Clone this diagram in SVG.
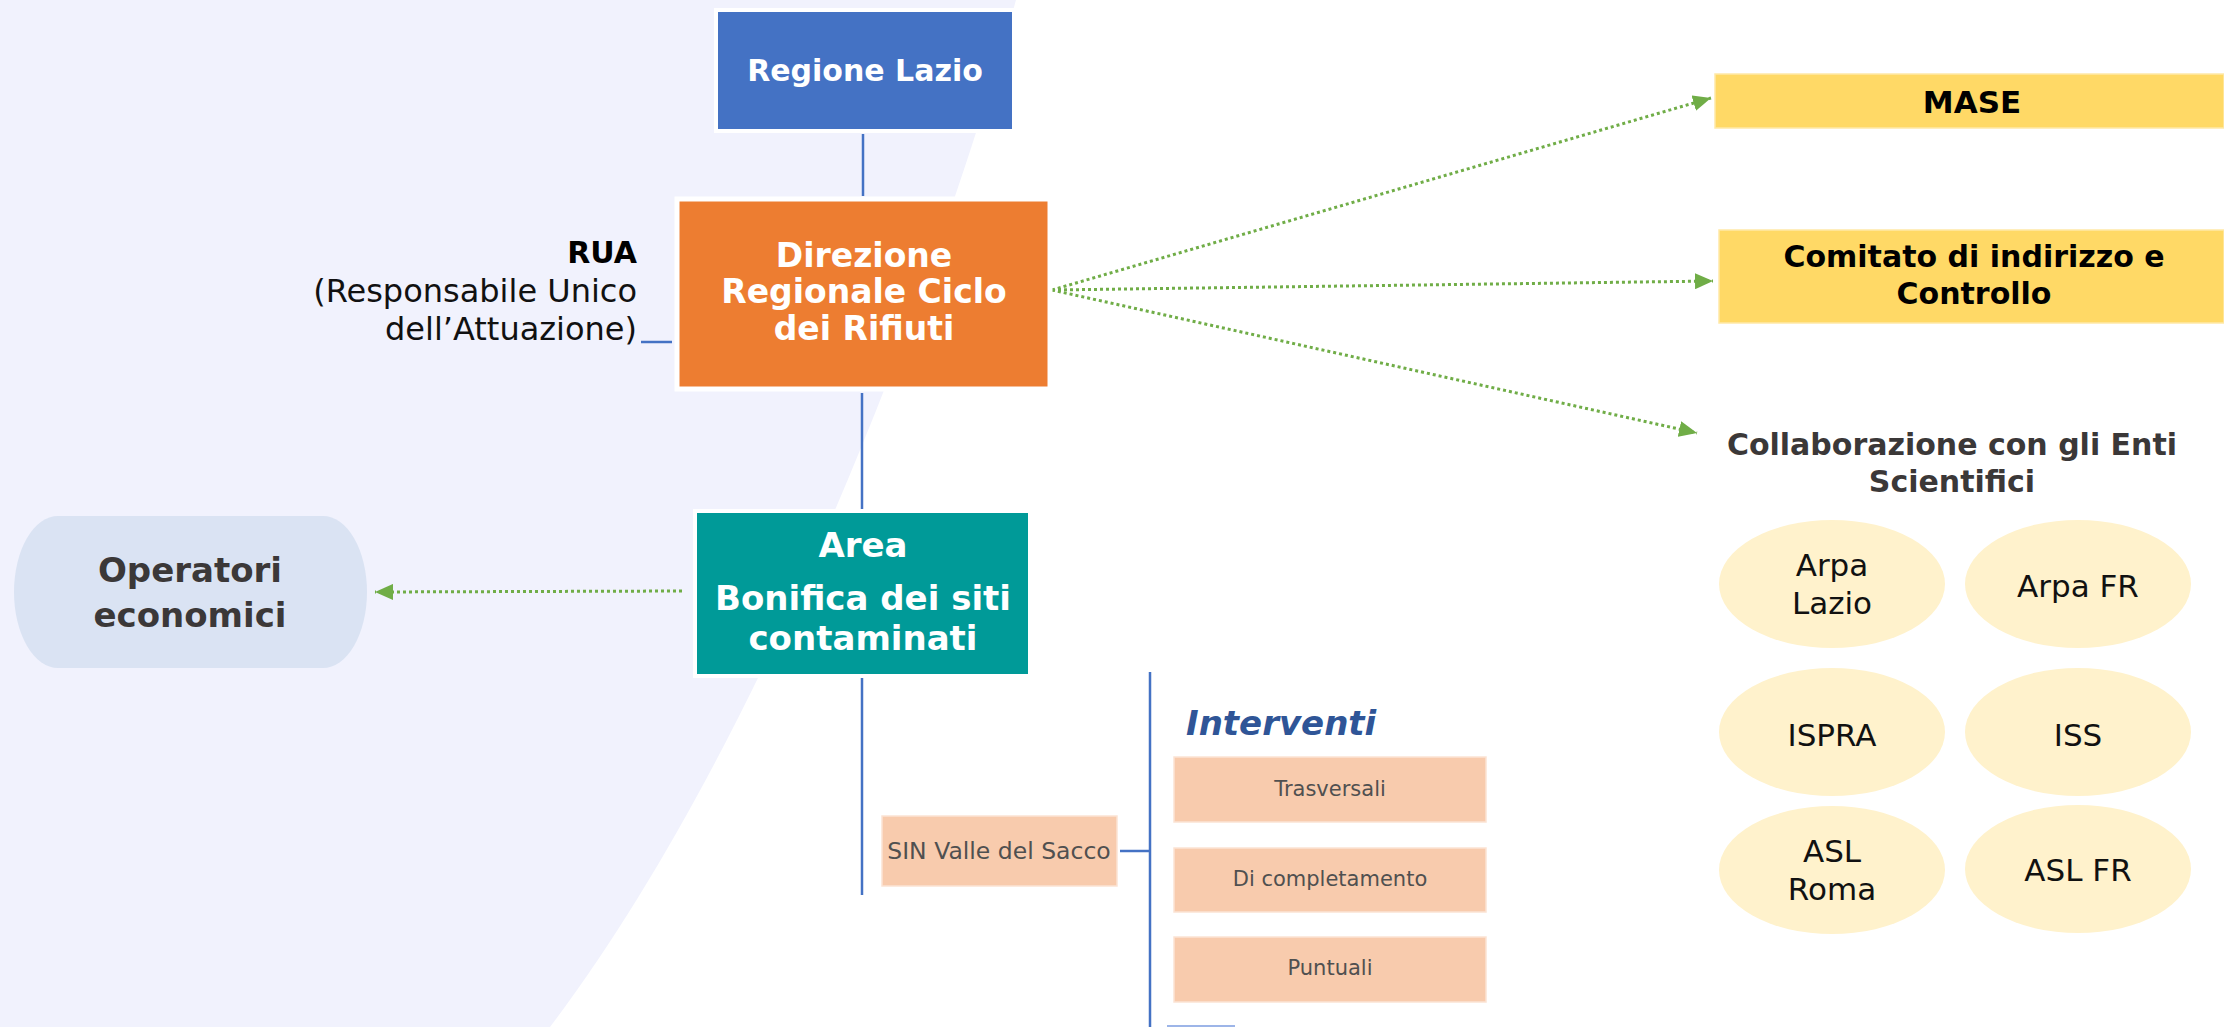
<svg xmlns="http://www.w3.org/2000/svg" width="2224" height="1027" viewBox="0 0 2224 1027">
<defs>
<style>
text{font-family:"DejaVu Sans","Liberation Sans",sans-serif;}
.wb{fill:#FFFFFF;font-weight:bold;text-anchor:middle;}
.bk{fill:#000000;font-weight:bold;text-anchor:middle;}
.gy{fill:#3B3838;font-weight:bold;text-anchor:middle;}
.box{fill:#F8CBAD;stroke:#FBE3D4;stroke-width:1.5;}
.bt{fill:#505050;text-anchor:middle;}
.circ{fill:#FFF2CC;}
.ct{fill:#111111;font-size:31px;text-anchor:middle;}
.blue{stroke:#4472C4;stroke-width:2.5;fill:none;}
.green{stroke:#70AD47;stroke-width:3;stroke-dasharray:3 3;fill:none;marker-end:url(#arr);}
</style>
<marker id="arr" viewBox="0 0 18 16" refX="18" refY="8" markerWidth="18" markerHeight="16" markerUnits="userSpaceOnUse" orient="auto">
<path d="M0,0 L18,8 L0,16 Z" fill="#70AD47"/>
</marker>
</defs>
<rect x="0" y="0" width="2224" height="1027" fill="#FFFFFF"/>
<path d="M0,0 L1016,0 C935,290 760,750 550,1027 L0,1027 Z" fill="#F1F2FD"/>

<g id="connectors">
<line class="blue" x1="863" y1="134" x2="863" y2="196"/>
<line class="blue" x1="862" y1="393" x2="862" y2="510"/>
<line class="blue" x1="862" y1="678" x2="862" y2="895"/>
<line class="blue" x1="641" y1="342" x2="672" y2="342"/>
<line class="blue" x1="1150" y1="672" x2="1150" y2="1027"/>
<line class="blue" x1="1120" y1="851" x2="1150" y2="851"/>
<path class="green" d="M1052,290 L1711,98"/>
<path class="green" d="M1052,290 L1713,281"/>
<path class="green" d="M1052,290 L1697,433"/>
<path class="green" d="M682,591 L375,592"/>
</g>

<g id="regione-lazio">
<rect x="716" y="10" width="298" height="121" fill="#4472C4" stroke="#FFFFFF" stroke-width="4"/>
<text class="wb" x="865" y="81" font-size="30">Regione Lazio</text>
</g>

<g id="direzione">
<rect x="677" y="199" width="373" height="190" fill="#ED7D31" stroke="#FFFFFF" stroke-width="5"/>
<text class="wb" font-size="33"><tspan x="864" y="267">Direzione</tspan><tspan x="864" y="303">Regionale Ciclo</tspan><tspan x="864" y="340">dei Rifiuti</tspan></text>
</g>

<g id="rua">
<text x="637" y="263" font-size="30" font-weight="bold" fill="#000000" text-anchor="end">RUA</text>
<text x="637" y="302" font-size="32" fill="#111111" text-anchor="end">(Responsabile Unico</text>
<text x="637" y="340" font-size="32" fill="#111111" text-anchor="end">dell’Attuazione)</text>
</g>

<g id="area">
<rect x="695" y="511" width="335" height="165" fill="#009A98" stroke="#FFFFFF" stroke-width="4"/>
<text class="wb" font-size="34"><tspan x="863" y="557">Area</tspan><tspan x="863" y="610">Bonifica dei siti</tspan><tspan x="863" y="650">contaminati</tspan></text>
</g>

<g id="operatori">
<rect x="14" y="516" width="353" height="152" rx="44" ry="76" fill="#DAE3F3"/>
<text class="gy" font-size="34"><tspan x="190" y="582">Operatori</tspan><tspan x="190" y="627">economici</tspan></text>
</g>

<g id="sin">
<rect class="box" x="882" y="816" width="235" height="70"/>
<text class="bt" x="999" y="859" font-size="23.5">SIN Valle del Sacco</text>
</g>

<g id="interventi">
<text x="1186" y="735" font-size="34" font-weight="bold" font-style="italic" fill="#2F5597">Interventi</text>
</g>

<g id="trasversali">
<rect class="box" x="1174" y="757" width="312" height="65"/>
<text class="bt" x="1330" y="796" font-size="21">Trasversali</text>
</g>
<g id="completamento">
<rect class="box" x="1174" y="848" width="312" height="64"/>
<text class="bt" x="1330" y="886" font-size="21">Di completamento</text>
</g>
<g id="puntuali">
<rect class="box" x="1174" y="937" width="312" height="65"/>
<text class="bt" x="1330" y="975" font-size="21">Puntuali</text>
</g>
<rect x="1167" y="1025" width="68" height="2" fill="#9DB5E8"/>

<g id="mase">
<rect x="1715" y="74" width="509" height="54" fill="#FFD966" stroke="#FFE9A8" stroke-width="1.5"/>
<text class="bk" x="1972" y="113" font-size="31">MASE</text>
</g>

<g id="comitato">
<rect x="1719" y="230" width="505" height="93" fill="#FFD966" stroke="#FFE9A8" stroke-width="1.5"/>
<text class="bk" font-size="30"><tspan x="1974" y="267">Comitato di indirizzo e</tspan><tspan x="1974" y="304">Controllo</tspan></text>
</g>

<g id="collaborazione">
<text class="gy" font-size="30"><tspan x="1952" y="455">Collaborazione con gli Enti</tspan><tspan x="1952" y="492">Scientifici</tspan></text>
</g>

<g id="arpa-lazio">
<ellipse class="circ" cx="1832" cy="584" rx="113" ry="64"/>
<text class="ct"><tspan x="1832" y="576">Arpa</tspan><tspan x="1832" y="614">Lazio</tspan></text>
</g>
<g id="arpa-fr">
<ellipse class="circ" cx="2078" cy="584" rx="113" ry="64"/>
<text class="ct" x="2078" y="597">Arpa FR</text>
</g>
<g id="ispra">
<ellipse class="circ" cx="1832" cy="732" rx="113" ry="64"/>
<text class="ct" x="1832" y="746">ISPRA</text>
</g>
<g id="iss">
<ellipse class="circ" cx="2078" cy="732" rx="113" ry="64"/>
<text class="ct" x="2078" y="746">ISS</text>
</g>
<g id="asl-roma">
<ellipse class="circ" cx="1832" cy="870" rx="113" ry="64"/>
<text class="ct"><tspan x="1832" y="862">ASL</tspan><tspan x="1832" y="900">Roma</tspan></text>
</g>
<g id="asl-fr">
<ellipse class="circ" cx="2078" cy="869" rx="113" ry="64"/>
<text class="ct" x="2078" y="881">ASL FR</text>
</g>
</svg>
